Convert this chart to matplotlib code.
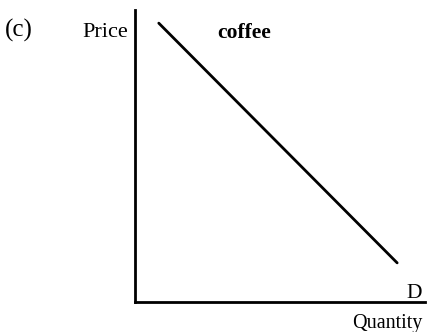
import matplotlib
matplotlib.use("Agg")
import matplotlib.pyplot as plt

# Demand curve for coffee (quantity, price)
quantity = [0.82, 9.04]
price = [9.55, 1.34]
curve_label = "D"
panel_label = "(c)"
good = "coffee"

plt.rcParams["font.family"] = ["Liberation Serif", "DejaVu Serif"]

fig = plt.figure(figsize=(4.30, 3.32), dpi=100)
ax = fig.add_axes([135 / 430, 30 / 332, 290 / 430, 292 / 332])

ax.plot(quantity, price, color="black", linewidth=2.0, solid_capstyle="round")

ax.set_xlim(0, 10)
ax.set_ylim(0, 10)
ax.set_xticks([])
ax.set_yticks([])
for side in ("top", "right"):
    ax.spines[side].set_visible(False)
for side in ("left", "bottom"):
    ax.spines[side].set_linewidth(2.0)

# labels
ax.text(9.64, 0.12, curve_label, ha="center", va="baseline", fontsize=15.5)
ax.text(9.93, -0.89, "Quantity", ha="right", va="baseline", fontsize=14.5)
ax.text(-0.24, 9.07, "Price", ha="right", va="baseline", fontsize=16)
ax.text(3.78, 9.04, good, ha="center", va="baseline", fontsize=15.5, fontweight="bold")
fig.text(5 / 430, 1 - 30 / 332, panel_label, ha="left", va="center", fontsize=18)

fig.savefig("out.png", dpi=100, facecolor="white")
